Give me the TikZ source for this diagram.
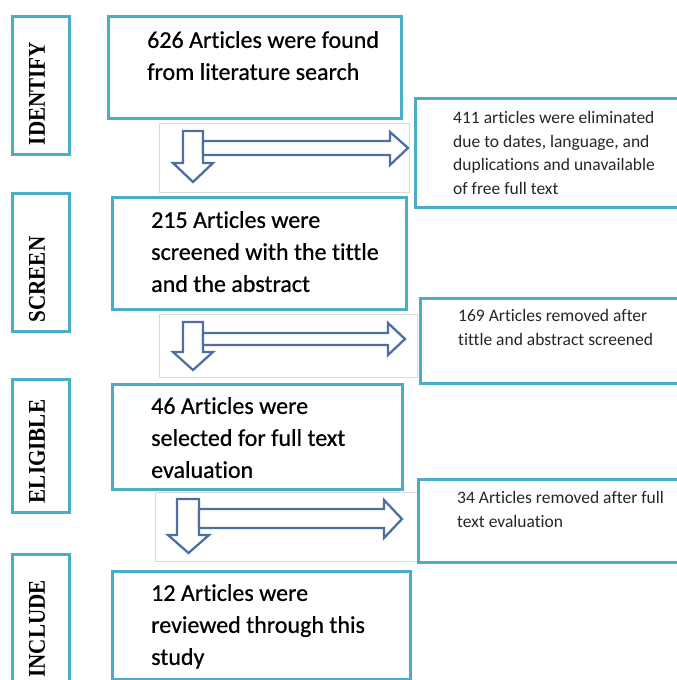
\documentclass[tikz,border=0pt]{standalone}
\usepackage{fontspec}
\setmainfont{Carlito}[Ligatures={NoCommon,NoContextual}]
\newfontfamily\mainfont{Carlito}[Ligatures={NoCommon,NoContextual},FakeBold=0.6]
\newfontfamily\labfont{Liberation Serif}
\usepackage{graphicx}
\definecolor{boxblue}{HTML}{4BACC6}
\definecolor{arrblue}{HTML}{4D6FA3}
\definecolor{panelgray}{HTML}{DADADA}
\begin{document}
\begin{tikzpicture}[x=1pt,y=-1pt,
  mainbox/.style={draw=boxblue, line width=2.7pt, anchor=north west, inner sep=0pt, fill=white},
  panel/.style={draw=panelgray, line width=0.8pt, anchor=north west, inner sep=0pt},
  maintext/.style={anchor=north west, inner sep=0pt, align=left, font=\mainfont\fontsize{24}{32}\selectfont, text=black},
  sidetext/.style={anchor=north west, inner sep=0pt, align=left, font=\fontsize{17.5}{23.7}\selectfont, text=black!85},
  lab/.style={rotate=90, inner sep=0pt, font=\labfont\bfseries\fontsize{24}{26}\selectfont},
  barrow/.style={draw=arrblue, fill=white, line width=2.3pt, line join=miter}
]
\useasboundingbox (0,0) rectangle (677,680);

% grey arrow panels
\node[panel, minimum width=250pt, minimum height=69pt] (p1) at (159,123) {};
\node[panel, minimum width=258pt, minimum height=63pt] (p2) at (159,314) {};
\node[panel, minimum width=262pt, minimum height=69pt] (p3) at (155,492) {};

% stage label boxes
\node[mainbox, minimum width=57pt, minimum height=138pt] (l1) at (11,15) {};
\node[mainbox, minimum width=57pt, minimum height=138pt] (l2) at (11,192) {};
\node[mainbox, minimum width=57pt, minimum height=133pt] (l3) at (11,378) {};
\node[mainbox, minimum width=57pt, minimum height=140pt] (l4) at (11,553) {};

% main boxes
\node[mainbox, minimum width=293pt, minimum height=102pt] (b1) at (107,15) {};
\node[mainbox, minimum width=294pt, minimum height=112pt] (b2) at (111,196) {};
\node[mainbox, minimum width=290pt, minimum height=105pt] (b3) at (111,383) {};
\node[mainbox, minimum width=298pt, minimum height=108pt] (b4) at (111,570) {};

% side boxes
\node[mainbox, minimum width=280pt, minimum height=109pt] (r1) at (414,97) {};
\node[mainbox, minimum width=280pt, minimum height=85pt] (r2) at (419,297) {};
\node[mainbox, minimum width=280pt, minimum height=83pt] (r3) at (417,478) {};

% labels
\node[lab] (t-l1) at (37,93.5) {\scalebox{0.88}[1]{IDENTIFY}};
\node[lab] (t-l2) at (37,279.5) {\scalebox{0.88}[1]{SCREEN}};
\node[lab] (t-l3) at (37,451.5) {\scalebox{0.88}[1]{ELIGIBLE}};
\node[lab] (t-l4) at (37,629) {\scalebox{0.88}[1]{INCLUDE}};

% main texts
\node[maintext] (t-b1) at (147,31) {626 Articles were found\\from literature search};
\node[maintext] (t-b2) at (151,211) {215 Articles were\\screened with the tittle\\and the abstract};
\node[maintext] (t-b3) at (151,397) {46 Articles were\\selected for full text\\evaluation};
\node[maintext] (t-b4) at (151,584) {12 Articles were\\reviewed through this\\study};

% side texts
\node[sidetext] (t-r1) at (453,111) {411 articles were eliminated\\due to dates, language, and\\duplications and unavailable\\of free full text};
\node[sidetext] (t-r2) at (458,309) {169 Articles removed after\\tittle and abstract screened};
\node[sidetext] (t-r3) at (457,491) {34 Articles removed after full\\text evaluation};

% block arrows
\draw[barrow] (183,131) -- (203,131) -- (203,163) -- (213,163) -- (193,182) -- (173,163) -- (183,163) -- cycle;
\draw[barrow] (203,141) -- (390,141) -- (390,132) -- (408,148) -- (390,165) -- (390,155) -- (203,155) -- cycle;

\draw[barrow] (183,322) -- (203,322) -- (203,352) -- (213,352) -- (193,370) -- (173,352) -- (183,352) -- cycle;
\draw[barrow] (203,333) -- (388,333) -- (388,323) -- (405,339) -- (388,355) -- (388,345) -- (203,345) -- cycle;

\draw[barrow] (177,499) -- (199,499) -- (199,535) -- (209,535) -- (188.5,553) -- (168,535) -- (177,535) -- cycle;
\draw[barrow] (199,509) -- (384,509) -- (384,500) -- (402,519) -- (384,538) -- (384,528) -- (199,528) -- cycle;
\end{tikzpicture}
\end{document}
